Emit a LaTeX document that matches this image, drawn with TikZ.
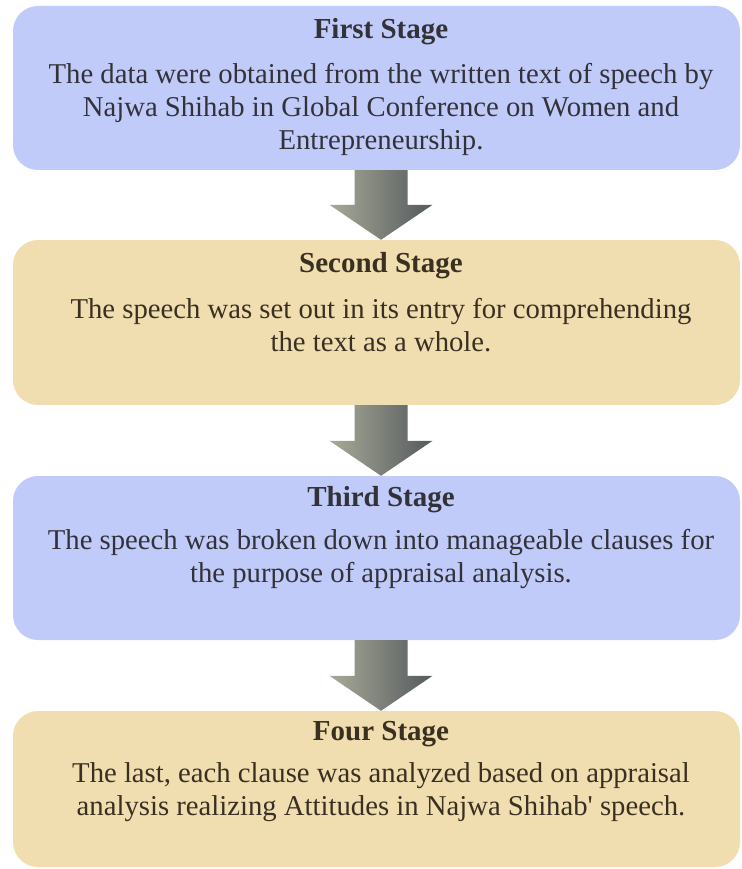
\documentclass[tikz,border=0pt]{standalone}
\usepackage{fontspec}
\setmainfont{Liberation Serif}[Ligatures=TeXOff]
\usetikzlibrary{calc}
\definecolor{boxblue}{RGB}{192,203,250}
\definecolor{boxtan}{RGB}{240,222,176}
\definecolor{arrowlight}{RGB}{168,170,152}
\definecolor{arrowdark}{RGB}{84,89,92}
\definecolor{txtblue}{RGB}{50,50,56}
\definecolor{txttan}{RGB}{58,48,34}
\begin{document}
\begin{tikzpicture}[x=1pt,y=-1pt,
  stagebox/.style={rounded corners=25pt, minimum width=727pt, inner sep=0pt, draw=none},
  stagetitle/.style={font=\fontsize{29}{33}\selectfont\bfseries, inner sep=0pt},
  stagebody/.style={font=\fontsize{28.7}{33}\selectfont, align=center, inner sep=0pt},
  arrowfill/.style={left color=arrowlight, right color=arrowdark, draw=none}]
\useasboundingbox (0,0) rectangle (741,869);
% boxes
\node[stagebox, fill=boxblue, minimum height=164pt] (b1) at (376.5,88) {};
\node[stagebox, fill=boxtan,  minimum height=165pt] (b2) at (376.5,322.5) {};
\node[stagebox, fill=boxblue, minimum height=164pt] (b3) at (376.5,558) {};
\node[stagebox, fill=boxtan,  minimum height=156pt] (b4) at (376.5,789) {};
% titles
\node[stagetitle, text=txtblue] (t1) at (381,32) {First Stage};
\node[stagetitle, text=txttan]  (t2) at (381,266) {Second Stage};
\node[stagetitle, text=txtblue] (t3) at (381,499.5) {Third Stage};
\node[stagetitle, text=txttan]  (t4) at (381,734) {Four Stage};
% bodies
\node[stagebody, text=txtblue] (d1) at (381,109.5) {The data were obtained from the written text of speech by\\ Najwa Shihab in Global Conference on Women and\\ Entrepreneurship.};
\node[stagebody, text=txttan] (d2) at (381,325.5) {The speech was set out in its entry for comprehending\\ the text as a whole.};
\node[stagebody, text=txtblue] (d3) at (381,559) {The speech was broken down into manageable clauses for\\ the purpose of appraisal analysis.};
\node[stagebody, text=txttan] (d4) at (381,792) {The last, each clause was analyzed based on appraisal\\ analysis realizing Attitudes in Najwa Shihab' speech.};
% arrows
\foreach \u/\v in {b1/b2, b2/b3, b3/b4}{
  \coordinate (s) at (\u.south -| t1);
  \coordinate (e) at (\v.north -| t1);
  \shade[arrowfill] ($(s)+(-26.5,0)$) -- ($(s)+(26.5,0)$) -- ($(e)+(26.5,-35)$) -- ($(e)+(51.5,-35)$) -- (e) -- ($(e)+(-51.5,-35)$) -- ($(e)+(-26.5,-35)$) -- cycle;
}
\end{tikzpicture}
\end{document}
